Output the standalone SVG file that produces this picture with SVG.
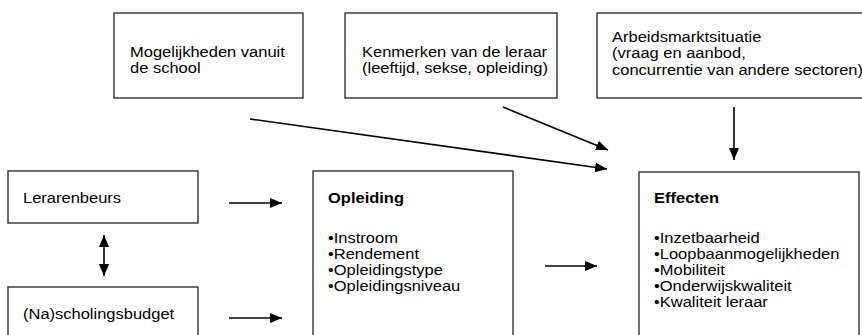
<svg xmlns="http://www.w3.org/2000/svg" width="862" height="335" viewBox="0 0 862 335">
<defs>
<marker id="ah" viewBox="0 0 12 10" refX="12" refY="5" markerWidth="12" markerHeight="10" markerUnits="userSpaceOnUse" orient="auto-start-reverse">
<path d="M0,0 L12,5 L0,10 z" fill="#000"/>
</marker>
<style>
.box{fill:#fff;stroke:#222;stroke-width:1.3}
.t{font-family:"Liberation Sans",Arial,sans-serif;font-size:15px;fill:#000}
.b{font-weight:bold}
.c{stroke:#000;stroke-width:1.6;fill:none;marker-end:url(#ah)}
</style>
</defs>
<rect width="862" height="335" fill="#fff"/>
<g id="mogelijkheden">
<rect class="box" x="114" y="13" width="189" height="85"/>
<text class="t" transform="translate(130,57) scale(1.1,1)">Mogelijkheden vanuit</text>
<text class="t" transform="translate(130,73) scale(1.1,1)">de school</text>
</g>
<g id="kenmerken">
<rect class="box" x="345" y="13" width="212" height="85"/>
<text class="t" transform="translate(362,57) scale(1.1,1)">Kenmerken van de leraar</text>
<text class="t" transform="translate(362,73) scale(1.1,1)">(leeftijd, sekse, opleiding)</text>
</g>
<g id="arbeidsmarkt">
<rect class="box" x="597" y="13" width="280" height="85"/>
<text class="t" transform="translate(612,42) scale(1.1,1)">Arbeidsmarktsituatie</text>
<text class="t" transform="translate(612,58) scale(1.1,1)">(vraag en aanbod,</text>
<text class="t" transform="translate(612,75) scale(1.1,1)">concurrentie van andere sectoren)</text>
</g>
<g id="lerarenbeurs">
<rect class="box" x="8" y="171" width="190" height="52"/>
<text class="t" transform="translate(23,203) scale(1.1,1)">Lerarenbeurs</text>
</g>
<g id="nascholingsbudget">
<rect class="box" x="8" y="287" width="190" height="60"/>
<text class="t" transform="translate(23,319) scale(1.1,1)">(Na)scholingsbudget</text>
</g>
<g id="opleiding">
<rect class="box" x="313" y="171" width="200" height="180"/>
<text class="t b" transform="translate(328,203) scale(1.1,1)">Opleiding</text>
<text class="t" transform="translate(328,243) scale(1.1,1)">•Instroom</text>
<text class="t" transform="translate(328,259) scale(1.1,1)">•Rendement</text>
<text class="t" transform="translate(328,275) scale(1.1,1)">•Opleidingstype</text>
<text class="t" transform="translate(328,291) scale(1.1,1)">•Opleidingsniveau</text>
</g>
<g id="effecten">
<rect class="box" x="639" y="172" width="220" height="180"/>
<text class="t b" transform="translate(654,203) scale(1.1,1)">Effecten</text>
<text class="t" transform="translate(654,243) scale(1.1,1)">•Inzetbaarheid</text>
<text class="t" transform="translate(654,259) scale(1.1,1)">•Loopbaanmogelijkheden</text>
<text class="t" transform="translate(654,275) scale(1.1,1)">•Mobiliteit</text>
<text class="t" transform="translate(654,291) scale(1.1,1)">•Onderwijskwaliteit</text>
<text class="t" transform="translate(654,307) scale(1.1,1)">•Kwaliteit leraar</text>
</g>
<g id="connectors">
<line class="c" x1="250" y1="119" x2="607" y2="169"/>
<line class="c" x1="503" y1="107" x2="608" y2="150"/>
<line class="c" x1="734" y1="107" x2="734" y2="160"/>
<line class="c" x1="229" y1="203" x2="282" y2="203"/>
<line class="c" x1="229" y1="318" x2="282" y2="318"/>
<line class="c" x1="545" y1="266" x2="597" y2="266"/>
<line class="c" x1="104" y1="235" x2="104" y2="276" style="marker-start:url(#ah)"/>
</g>
</svg>
